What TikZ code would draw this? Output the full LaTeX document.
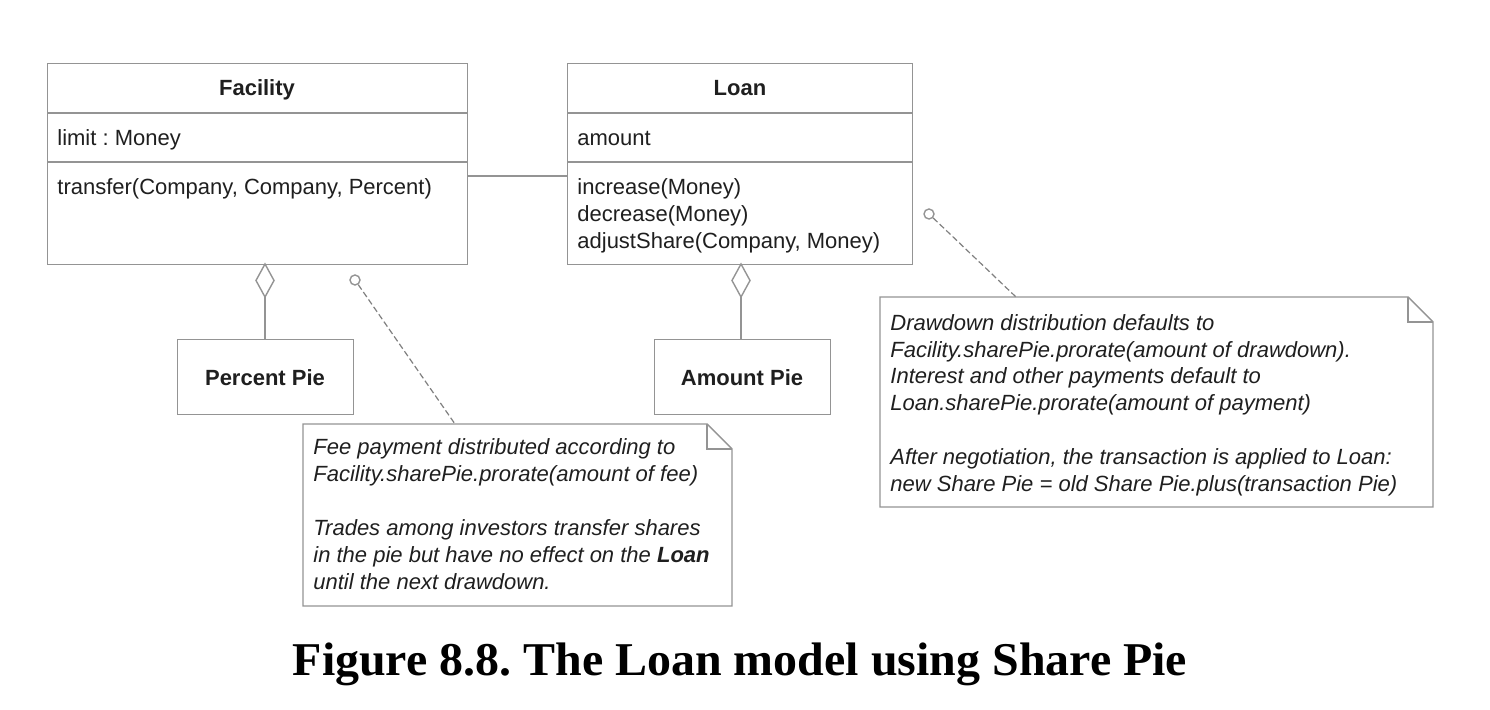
\documentclass[tikz,border=0pt]{standalone}
\usepackage{fontspec}
\setmainfont{Liberation Sans}
\newfontfamily\capfont{Liberation Serif}
\frenchspacing
\begin{document}
\begin{tikzpicture}[x=0.5pt,y=-0.5pt,
  line/.style={draw=black!42,line width=0.7pt},
  umltext/.style={font=\fontsize{11}{13.5}\selectfont,text=black!88,inner sep=0pt},
  boldtext/.style={umltext,font=\fontsize{11}{13.5}\selectfont\bfseries,anchor=base},
  notetext/.style={umltext,font=\fontsize{11}{13.5}\selectfont\itshape,anchor=base west},
  boxnode/.style={line,fill=white,inner sep=0pt,anchor=north west},
  agg/.style={line,fill=white},
  anchorcirc/.style={line,fill=white},
  notelink/.style={draw=black!50,line width=0.6pt,dash pattern=on 3pt off 1.5pt}
]
\useasboundingbox[fill=white] (0,0) rectangle (1490,710);

% ---------- Facility ----------
\node[boxnode,minimum width=210pt,minimum height=100.5pt] (fac) at (47,63) {};
\draw[line] (47,113) -- (467,113);
\draw[line] (47,162) -- (467,162);
\node[boldtext] (facT) at (257,96) {Facility};
\node[umltext,anchor=base west] (facA) at (57,146) {limit : Money};
\node[umltext,anchor=base west] (facM) at (57,195) {transfer(Company, Company, Percent)};

% ---------- Loan ----------
\node[boxnode,minimum width=172.5pt,minimum height=100.5pt] (loan) at (567,63) {};
\draw[line] (567,113) -- (912,113);
\draw[line] (567,162) -- (912,162);
\node[boldtext] (loanT) at (740,96) {Loan};
\node[umltext,anchor=base west] (loanA) at (577,146) {amount};
\node[umltext,anchor=base west] (loanM1) at (577,195) {increase(Money)};
\node[umltext,anchor=base west] (loanM2) at (577,222) {decrease(Money)};
\node[umltext,anchor=base west] (loanM3) at (577,249) {adjustShare(Company, Money)};

% association
\coordinate (assocL) at (467,176);
\coordinate (assocR) at (567,176);
\draw[line] (assocL) -- (assocR);

% ---------- Pies ----------
\node[boxnode,minimum width=88pt,minimum height=37.5pt] (pp) at (177,339) {};
\node[boldtext] (ppT) at (265,386) {Percent Pie};
\node[boxnode,minimum width=88pt,minimum height=37.5pt] (ap) at (654,339) {};
\node[boldtext] (apT) at (742,386) {Amount Pie};

% aggregation diamonds
\coordinate (d1t) at (265,264);
\coordinate (d1b) at (265,297);
\draw[agg] (d1t) -- (256,280.5) -- (d1b) -- (274,280.5) -- cycle;
\draw[line] (d1b) -- (pp.north -| d1b);
\coordinate (d2t) at (741,264);
\coordinate (d2b) at (741,297);
\draw[agg] (d2t) -- (732,280.5) -- (d2b) -- (750,280.5) -- cycle;
\draw[line] (d2b) -- (ap.north -| d2b);

% ---------- Note 1 ----------
\draw[line,fill=white] (303,424) -- (707,424) -- (732,449) -- (732,606) -- (303,606) -- cycle;
\draw[line] (707,424) -- (707,449) -- (732,449);
\node[notetext] (n1l1) at (313,455) {Fee payment distributed according to};
\node[notetext] (n1l2) at (313,482) {Facility.sharePie.prorate(amount of fee)};
\node[notetext] (n1l3) at (313,536) {Trades among investors transfer shares};
\node[notetext] (n1l4) at (313,563) {in the pie but have no effect on the \textbf{Loan}};
\node[notetext] (n1l5) at (313,590) {until the next drawdown.};
\node[anchorcirc,circle,minimum size=5pt,inner sep=0pt] (c1) at (355,280) {};
\coordinate (n1top) at (455,424);
\draw[notelink] (c1) -- (n1top);

% ---------- Note 2 ----------
\draw[line,fill=white] (880,297) -- (1408,297) -- (1433,322) -- (1433,507) -- (880,507) -- cycle;
\draw[line] (1408,297) -- (1408,322) -- (1433,322);
\node[notetext] (n2l1) at (890,331) {Drawdown distribution defaults to};
\node[notetext] (n2l2) at (890,358) {Facility.sharePie.prorate(amount of drawdown).};
\node[notetext] (n2l3) at (890,384) {Interest and other payments default to};
\node[notetext] (n2l4) at (890,411) {Loan.sharePie.prorate(amount of payment)};
\node[notetext] (n2l5) at (890,465) {After negotiation, the transaction is applied to Loan:};
\node[notetext] (n2l6) at (890,492) {new Share Pie = old Share Pie.plus(transaction Pie)};
\node[anchorcirc,circle,minimum size=5pt,inner sep=0pt] (c2) at (929,214) {};
\coordinate (n2top) at (1016,297);
\draw[notelink] (c2) -- (n2top);

% ---------- Caption ----------
\node[inner sep=0pt,anchor=base,xscale=1.02,font=\capfont\bfseries\fontsize{23.5}{27}\selectfont] (cap) at (740,676) {Figure 8.8. The Loan model using Share Pie};
\end{tikzpicture}
\end{document}
